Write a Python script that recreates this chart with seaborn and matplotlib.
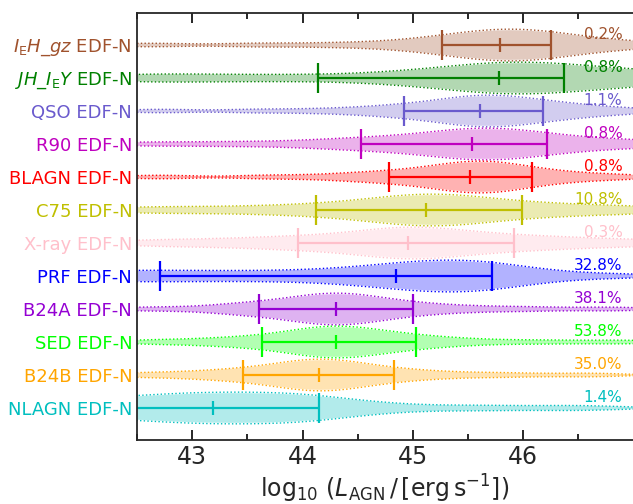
import numpy as np
import pandas as pd
import matplotlib
matplotlib.use("Agg")
import matplotlib.pyplot as plt
from matplotlib.ticker import MultipleLocator
import seaborn as sns

# Sample groups, top to bottom
labels = [r"$I_{\rm E}H\_gz$ EDF-N", r"$JH\_I_{\rm E}Y$ EDF-N", "QSO EDF-N",
          "R90 EDF-N", "BLAGN EDF-N", "C75 EDF-N", "X-ray EDF-N", "PRF EDF-N",
          "B24A EDF-N", "SED EDF-N", "B24B EDF-N", "NLAGN EDF-N"]
colors = ["sienna", "green", "slateblue", "m", "red", "y", "pink", "blue",
          "darkviolet", "lime", "orange", "c"]
fractions = ["0.2%", "0.8%", "1.1%", "0.8%", "0.8%", "10.8%", "0.3%",
             "32.8%", "38.1%", "53.8%", "35.0%", "1.4%"]

# Median and 16th/84th percentile of log L_AGN per group
lower = [45.26, 44.14, 44.92, 44.53, 44.78, 44.12, 43.96, 42.71, 43.61, 43.63, 43.46, 42.20]
median = [45.79, 45.78, 45.61, 45.54, 45.52, 45.12, 44.96, 44.85, 44.30, 44.30, 44.15, 43.19]
upper = [46.25, 46.37, 46.18, 46.22, 46.08, 45.99, 45.92, 45.72, 45.00, 45.03, 44.83, 44.15]

# Representative log L_AGN values per group
ieh_gz = [42.6, 43.6, 44.3, 44.8, 45.08, 45.27, 45.4, 45.5, 45.6, 45.7, 45.79,
          45.86, 45.93, 46.0, 46.08, 46.17, 46.27, 46.4, 46.55, 46.75, 47.1]
jh_iey = [42.3, 42.7, 43.1, 43.6, 44.1, 44.6, 44.9, 45.1, 45.3, 45.45, 45.6, 45.7,
          45.78, 45.85, 45.95, 46.05, 46.15, 46.25, 46.37, 46.5, 46.65, 46.8, 47.0,
          47.2, 47.4]
qso = [42.7, 43.6, 44.2, 44.6, 44.85, 45.0, 45.15, 45.3, 45.4, 45.5, 45.57, 45.61,
       45.66, 45.72, 45.8, 45.88, 45.97, 46.07, 46.18, 46.3, 46.45, 46.65, 47.0]
r90 = [42.6, 43.3, 43.9, 44.3, 44.53, 44.75, 44.95, 45.1, 45.25, 45.38, 45.47,
       45.54, 45.62, 45.7, 45.78, 45.87, 45.97, 46.08, 46.22, 46.38, 46.6, 46.9, 47.3]
blagn = [42.7, 43.7, 44.3, 44.6, 44.8, 45.0, 45.15, 45.28, 45.38, 45.46, 45.52,
         45.58, 45.64, 45.7, 45.77, 45.85, 45.95, 46.08, 46.25, 46.5, 46.9]
c75 = [42.4, 42.9, 43.4, 43.8, 44.12, 44.35, 44.55, 44.7, 44.85, 44.95, 45.05,
       45.12, 45.2, 45.3, 45.4, 45.5, 45.62, 45.78, 45.99, 46.2, 46.45, 46.8, 47.2]
xray = [42.5, 43.0, 43.4, 43.75, 43.96, 44.2, 44.4, 44.58, 44.72, 44.85, 44.92,
        44.96, 45.05, 45.15, 45.27, 45.4, 45.55, 45.72, 45.92, 46.15, 46.4, 46.75, 47.2]
prf = [41.5, 41.9, 42.2, 42.5, 42.71, 43.0, 43.3, 43.6, 43.9, 44.15, 44.4, 44.6,
       44.75, 44.85, 44.95, 45.05, 45.15, 45.25, 45.35, 45.42, 45.5, 45.58, 45.65,
       45.72, 45.8, 45.95, 46.3, 46.9]
b24a = [42.6, 43.2, 43.45, 43.61, 43.78, 43.92, 44.03, 44.12, 44.2, 44.26, 44.3,
        44.36, 44.43, 44.5, 44.6, 44.72, 44.85, 45.0, 45.25, 45.6, 46.1, 46.8]
sed = [42.6, 43.1, 43.4, 43.63, 43.8, 43.95, 44.05, 44.15, 44.22, 44.27, 44.3,
       44.36, 44.44, 44.53, 44.63, 44.75, 44.88, 45.03, 45.25, 45.6, 46.2, 46.9]
b24b = [42.5, 42.95, 43.25, 43.46, 43.62, 43.76, 43.88, 43.98, 44.05, 44.11, 44.15,
        44.2, 44.27, 44.35, 44.44, 44.55, 44.68, 44.83, 45.05, 45.4, 45.9, 46.6]
nlagn = [41.5, 41.7, 41.95, 42.2, 42.4, 42.6, 42.78, 42.92, 43.05, 43.19, 43.33,
         43.47, 43.62, 43.78, 43.92, 44.05, 44.15, 44.4, 44.8, 45.6, 46.5]

samples = [ieh_gz, jh_iey, qso, r90, blagn, c75, xray, prf, b24a, sed, b24b, nlagn]
df = pd.concat([pd.DataFrame({"group": lab, "logL": vals})
                for lab, vals in zip(labels, samples)], ignore_index=True)

sns.set_style("ticks")
plt.rcParams["mathtext.fontset"] = "dejavusans"

fig = plt.figure(figsize=(6.33, 5.04), dpi=100)
ax = fig.add_axes([137 / 633, 1 - 440 / 504, 1 - 137 / 633, 427 / 504])

common = dict(data=df, x="logL", y="group", hue="group", order=labels,
              hue_order=labels, palette=colors, saturation=1,
              density_norm="width", inner=None, cut=3, bw_adjust=0.6,
              legend=False, ax=ax)
sns.violinplot(**common, width=0.9, linewidth=0, alpha=0.3)
sns.violinplot(**common, width=0.96, fill=False, linewidth=1.0, linestyle=":")

for i, (lo, med, hi, col, frac) in enumerate(zip(lower, median, upper, colors, fractions)):
    ax.errorbar(med, i, xerr=[[med - lo], [hi - med]], color=col, capsize=10.5,
                capthick=1.6, elinewidth=1.6, fmt="none")
    ax.plot(med, i, marker="|", ms=10.5, mew=1.6, color=col)
    ax.text(46.9, i - 0.08, frac, ha="right", va="bottom", color=col, fontsize=11)

ax.set_xlim(42.5, 46.995)
ax.set_ylim(11.97, -0.97)
ax.xaxis.set_major_locator(MultipleLocator(1))
ax.xaxis.set_minor_locator(MultipleLocator(0.5))
ax.tick_params(axis="x", which="both", direction="in", top=True, bottom=True,
               width=1.4, labelsize=17)
ax.tick_params(axis="x", which="major", length=7)
ax.tick_params(axis="x", which="minor", length=4)
ax.tick_params(axis="y", length=0, labelsize=13)
for tl, col in zip(ax.get_yticklabels(), colors):
    tl.set_color(col)

for side in ["left", "top", "bottom"]:
    ax.spines[side].set_linewidth(1.3)
ax.spines["right"].set_visible(False)

ax.set_ylabel("")
ax.set_xlabel(r"$\log_{10}\,(L_{\rm AGN}\,/\,[\rm erg\,s^{-1}])$", fontsize=17,
              labelpad=3)

fig.savefig("out.png", dpi=100)
